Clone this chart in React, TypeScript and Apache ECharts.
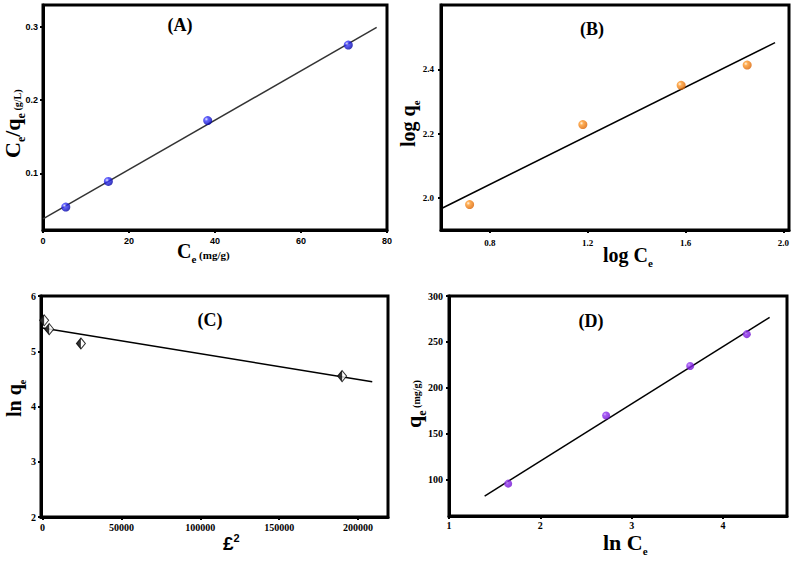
import React, { useEffect, useRef } from "react";
import * as echarts from "echarts";

// Panel A: Langmuir
const aX = [5.3, 15.2, 38.3, 71.0];
const aY = [0.054, 0.089, 0.172, 0.275];
const aFitX = [0, 77.6];
const aFitY = [0.038, 0.299];
const aXTicks = [0, 20, 40, 60, 80];
const aYTicks = [0.1, 0.2, 0.3];

// Panel B: Freundlich
const bX = [0.717, 1.18, 1.582, 1.852];
const bY = [1.979, 2.228, 2.35, 2.413];
const bFitX = [0.6, 1.966];
const bFitY = [1.966, 2.483];
const bXTicks = [0.8, 1.2, 1.6, 2.0];
const bYTicks = [2.0, 2.2, 2.4];

// Panel C: D-R
const cX = [1000, 4200, 24300, 189900];
const cY = [5.56, 5.4, 5.14, 4.55];
const cFitX = [0, 209000];
const cFitY = [5.42, 4.45];
const cXTicks = [0, 50000, 100000, 150000, 200000];
const cYTicks = [2, 3, 4, 5, 6];

// Panel D: Temkin
const dX = [1.648, 2.72, 3.64, 4.26];
const dY = [95.3, 169.7, 223.7, 258.4];
const dFitX = [1.39, 4.51];
const dFitY = [81.8, 276.7];
const dXTicks = [1, 2, 3, 4];
const dYTicks = [100, 150, 200, 250, 300];

const SERIF = '"Liberation Serif", "DejaVu Serif", serif';
const SANS = '"Liberation Sans", Arial, sans-serif';

const zip = (xs: number[], ys: number[]) => xs.map((x, i) => [x, ys[i]]);

let measureCtx: CanvasRenderingContext2D | null = null;
function textWidth(text: string, size: number, family: string) {
  if (!measureCtx) measureCtx = document.createElement("canvas").getContext("2d");
  if (!measureCtx) return text.length * size * 0.5;
  measureCtx.font = `bold ${size}px ${family}`;
  return measureCtx.measureText(text).width;
}

type Piece = { text: string; size: number; dy?: number; family?: string };

function title(x: number, y: number, rotation: number, pieces: Piece[]) {
  let cx = 0;
  const children = pieces.map((p) => {
    const fam = p.family || SERIF;
    const el = {
      type: "text",
      x: cx,
      y: p.dy || 0,
      style: {
        text: p.text,
        fontSize: p.size,
        fontFamily: fam,
        fontWeight: "bold",
        fill: "#000",
        align: "left",
        verticalAlign: "middle",
      },
    };
    cx += textWidth(p.text, p.size, fam);
    return el;
  });
  return { type: "group", x, y, rotation, children };
}

function label(text: string, x: number, y: number) {
  return {
    type: "text",
    x,
    y,
    style: {
      text,
      fontSize: 18,
      fontFamily: SERIF,
      fontWeight: "bold",
      fill: "#000",
      align: "center",
      verticalAlign: "middle",
    },
  };
}

function axis(
  gridIndex: number,
  min: number,
  max: number,
  ticks: number[],
  fmt: (v: number) => string,
  family: string,
  fontSize: number,
  margin: number
) {
  return {
    type: "value",
    gridIndex,
    min,
    max,
    splitLine: { show: false },
    axisLine: { show: true, onZero: false, lineStyle: { color: "#000", width: 3 } },
    axisTick: { show: true, inside: false, length: 3, customValues: ticks, lineStyle: { color: "#000", width: 2 } },
    axisLabel: {
      customValues: ticks,
      formatter: (v: number) => fmt(v),
      fontFamily: family,
      fontWeight: "bold",
      fontSize,
      color: "#000",
      margin,
    },
  };
}

function sphere(light: string, mid: string, dark: string) {
  return new echarts.graphic.RadialGradient(0.35, 0.35, 0.7, [
    { offset: 0, color: light },
    { offset: 0.3, color: mid },
    { offset: 1, color: dark },
  ]);
}

function fitLine(xi: number, xs: number[], ys: number[], color: string) {
  return {
    type: "line",
    xAxisIndex: xi,
    yAxisIndex: xi,
    data: zip(xs, ys),
    symbol: "none",
    silent: true,
    lineStyle: { color, width: 1.5 },
    z: 2,
  };
}

export default function App() {
  const ref = useRef<HTMLDivElement>(null);
  useEffect(() => {
    if (!ref.current) return;
    const chart = echarts.init(ref.current, null, { renderer: "svg" });
    const gridBase = { show: true, borderColor: "#000", borderWidth: 3, backgroundColor: "transparent" };
    const option = {
      animation: false,
      backgroundColor: "#fff",
      grid: [
        { ...gridBase, left: 43, top: 5, width: 344, height: 225 },
        { ...gridBase, left: 441, top: 5, width: 348, height: 225 },
        { ...gridBase, left: 41, top: 296, width: 347, height: 221 },
        { ...gridBase, left: 449, top: 296, width: 338, height: 220 },
      ],
      xAxis: [
        axis(0, 0, 80, aXTicks, (v) => String(v), SANS, 9, 6),
        axis(1, 0.6, 2.023, bXTicks, (v) => v.toFixed(1), SERIF, 9, 8),
        axis(2, -1000, 219000, cXTicks, (v) => String(v), SERIF, 10, 5),
        axis(3, 1, 4.7, dXTicks, (v) => String(v), SERIF, 10, 4),
      ],
      yAxis: [
        axis(0, 0.0227, 0.3296, aYTicks, (v) => v.toFixed(1), SANS, 9, 5),
        axis(1, 1.9, 2.6, bYTicks, (v) => v.toFixed(1), SERIF, 9, 7),
        axis(2, 2, 6, cYTicks, (v) => String(v), SERIF, 10, 5),
        axis(3, 60, 300, dYTicks, (v) => String(v), SERIF, 10, 6),
      ],
      series: [
        fitLine(0, aFitX, aFitY, "#333"),
        {
          type: "scatter",
          xAxisIndex: 0,
          yAxisIndex: 0,
          data: zip(aX, aY),
          symbol: "circle",
          symbolSize: 9,
          itemStyle: { color: sphere("#e8e8ff", "#3a3aff", "#0000a0") },
          z: 3,
        },
        fitLine(1, bFitX, bFitY, "#000"),
        {
          type: "scatter",
          xAxisIndex: 1,
          yAxisIndex: 1,
          data: zip(bX, bY),
          symbol: "circle",
          symbolSize: 9,
          itemStyle: { color: sphere("#fff2e0", "#ff9a2a", "#d96000") },
          z: 3,
        },
        fitLine(2, cFitX, cFitY, "#000"),
        {
          type: "scatter",
          xAxisIndex: 2,
          yAxisIndex: 2,
          data: zip(cX, cY),
          symbol: "diamond",
          symbolSize: [9, 11],
          itemStyle: { color: "#fff", borderColor: "#000", borderWidth: 1 },
          z: 3,
        },
        {
          type: "scatter",
          xAxisIndex: 2,
          yAxisIndex: 2,
          data: zip(cX, cY),
          symbol: "path://M10,0 L0,10 L10,20 Z",
          symbolSize: [4.5, 11],
          symbolOffset: [-2.25, 0],
          itemStyle: { color: "#000" },
          z: 4,
        },
        fitLine(3, dFitX, dFitY, "#000"),
        {
          type: "scatter",
          xAxisIndex: 3,
          yAxisIndex: 3,
          data: zip(dX, dY),
          symbol: "circle",
          symbolSize: 8,
          itemStyle: { color: sphere("#c89bff", "#9030f0", "#7010d0") },
          z: 3,
        },
      ],
      graphic: [
        label("(A)", 180, 25),
        label("(B)", 592, 29),
        label("(C)", 210, 320),
        label("(D)", 591, 321),
        // A y title
        title(12, 158, Math.PI / 2, [
          { text: "C", size: 22 },
          { text: "e", size: 12, dy: 9 },
          { text: "/q", size: 22 },
          { text: "e", size: 12, dy: 9 },
          { text: " (g/L)", size: 10, dy: 5 },
        ]),
        // A x title
        title(177, 251, 0, [
          { text: "C", size: 20 },
          { text: "e", size: 11, dy: 8 },
          { text: " (mg/g)", size: 11, dy: 4 },
        ]),
        // B y title
        title(408, 147, Math.PI / 2, [
          { text: "log q", size: 20 },
          { text: "e", size: 11, dy: 8 },
        ]),
        // B x title
        title(603, 255, 0, [
          { text: "log C", size: 20 },
          { text: "e", size: 11, dy: 8 },
        ]),
        // C y title
        title(14, 417, Math.PI / 2, [
          { text: "ln q", size: 20 },
          { text: "e", size: 10, dy: 8 },
        ]),
        // C x title
        title(223, 543, 0, [
          { text: "£", size: 19, family: SANS },
          { text: "2", size: 11, dy: -5, family: SANS },
        ]),
        // D y title
        title(413, 428, Math.PI / 2, [
          { text: "q", size: 22 },
          { text: "e", size: 12, dy: 9 },
          { text: " (mg/g)", size: 10, dy: 3 },
        ]),
        // D x title
        title(603, 542, 0, [
          { text: "ln C", size: 22 },
          { text: "e", size: 11, dy: 9 },
        ]),
      ],
    };
    chart.setOption(option as any);
    return () => chart.dispose();
  }, []);
  return (
    <div
      ref={ref}
      style={{ position: "absolute", left: 0, top: 0, width: 793, height: 562 }}
    />
  );
}
